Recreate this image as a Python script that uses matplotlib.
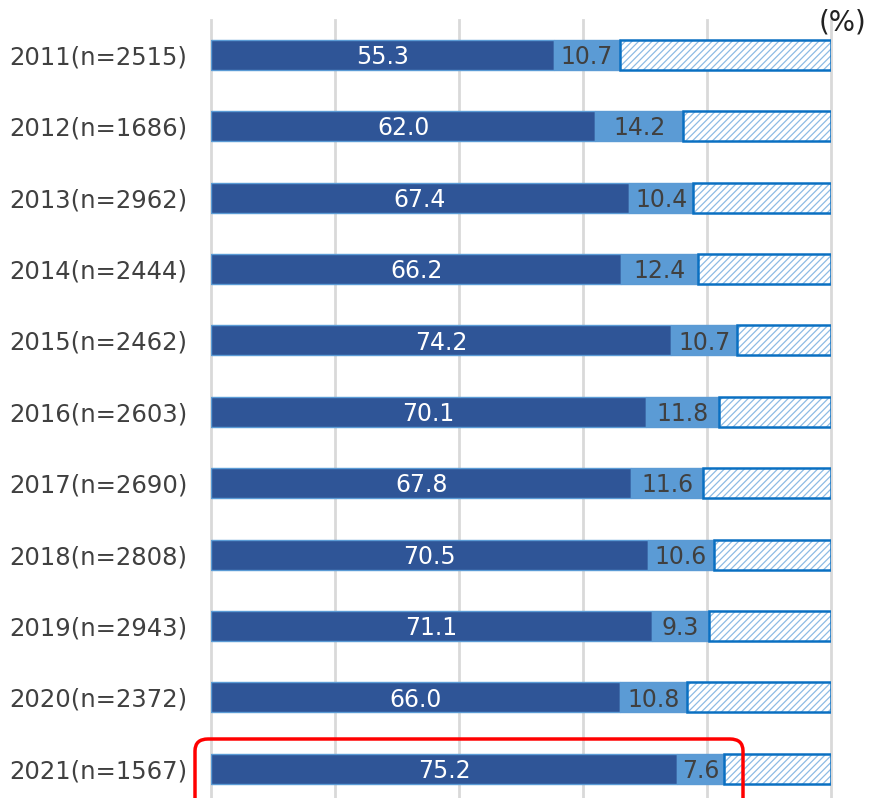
#!/usr/bin/env python3

import matplotlib.pyplot as plt
from matplotlib.patches import FancyBboxPatch

years = ["2011(n=2515)", "2012(n=1686)", "2013(n=2962)", "2014(n=2444)",
         "2015(n=2462)", "2016(n=2603)", "2017(n=2690)", "2018(n=2808)",
         "2019(n=2943)", "2020(n=2372)", "2021(n=1567)"]
first = [55.3, 62.0, 67.4, 66.2, 74.2, 70.1, 67.8, 70.5, 71.1, 66.0, 75.2]
second = [10.7, 14.2, 10.4, 12.4, 10.7, 11.8, 11.6, 10.6, 9.3, 10.8, 7.6]
rest = [34.0, 23.8, 22.2, 21.4, 15.1, 18.1, 20.6, 18.9, 19.6, 23.2, 17.2]

dark = "#2F5597"
light = "#5B9BD5"
hatchc = "#0A70C2"

plt.rcParams['hatch.linewidth'] = 0.9

fig = plt.figure(figsize=(8.7, 7.98), dpi=100)
ax = fig.add_axes([211 / 870, 0.0, 620 / 870, 778 / 798])

pos = list(range(len(years)))
h = 0.42
ax.barh(pos, first, height=h, color=dark, edgecolor=light, linewidth=1, zorder=3)
ax.barh(pos, second, left=first, height=h, color=light, edgecolor=light, linewidth=1, zorder=3)
lefts = [a + b for a, b in zip(first, second)]
# hatch in a light blue, outline drawn separately in a stronger blue
ax.barh(pos, rest, left=lefts, height=h, color="white", edgecolor="#8DBBE4",
        linewidth=0, hatch="/////", zorder=3)
ax.barh(pos, rest, left=lefts, height=h, fill=False, edgecolor=hatchc,
        linewidth=1.8, zorder=3.5)

for i in pos:
    ax.text(first[i] / 2, i + 0.03, "%.1f" % first[i], color="white",
            ha="center", va="center", fontsize=17, zorder=4)
    ax.text(first[i] + second[i] / 2, i + 0.03, "%.1f" % second[i], color="#404040",
            ha="center", va="center", fontsize=17, zorder=4)

ax.set_xlim(0, 100)
ax.set_ylim(10.41, -0.49)
ax.set_xticks([0, 20, 40, 60, 80, 100])
ax.set_xticklabels([])
ax.tick_params(axis="x", length=0)
ax.grid(axis="x", color="#D9D9D9", linewidth=2, zorder=0)
for gl in ax.get_xgridlines():
    gl.set_clip_on(False)
ax.set_yticks(pos)
ax.set_yticklabels(years, fontsize=17.5, color="#404040")
ax.tick_params(axis="y", length=0, pad=17)
for s in ax.spines.values():
    s.set_visible(False)

fig.text(866 / 870, 1 - 22 / 798, "(%)", ha="right", va="center",
         fontsize=20, color="#222222")

box = FancyBboxPatch((195 / 870, 1 - 835 / 798), 548 / 870, 96 / 798,
                     boxstyle="round,pad=0,rounding_size=0.015",
                     transform=fig.transFigure, fill=False,
                     edgecolor="#FF0000", linewidth=2.5, zorder=10)
fig.patches.append(box)

fig.savefig("out.png", dpi=100)
